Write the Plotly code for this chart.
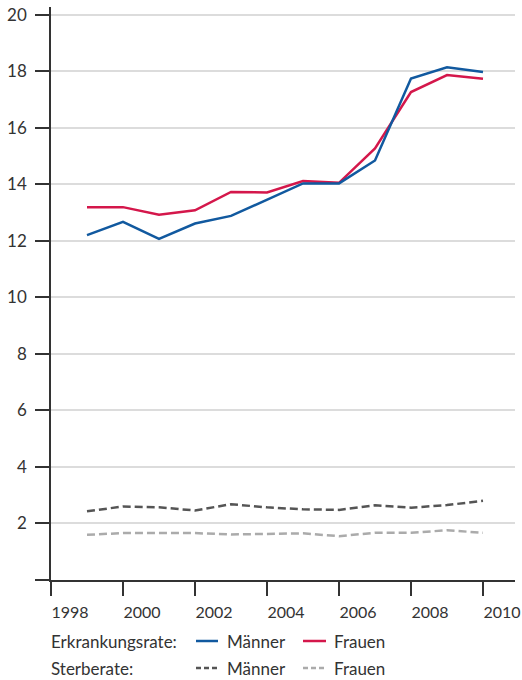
import plotly.graph_objects as go

years = list(range(1999, 2011))
erk_maenner = [12.2, 12.67, 12.07, 12.61, 12.88, 13.45, 14.03, 14.03, 14.84, 17.74, 18.14, 17.97]
erk_frauen = [13.19, 13.19, 12.92, 13.08, 13.73, 13.71, 14.11, 14.05, 15.27, 17.26, 17.86, 17.73]
sterb_maenner = [2.43, 2.6, 2.57, 2.46, 2.68, 2.57, 2.5, 2.48, 2.64, 2.56, 2.65, 2.8]
sterb_frauen = [1.6, 1.66, 1.66, 1.66, 1.61, 1.62, 1.65, 1.55, 1.67, 1.67, 1.76, 1.67]

y_ticks = list(range(0, 21, 2))
y_ticktext = ["" if v == 0 else str(v) for v in y_ticks]
x_ticks = list(range(1998, 2011, 2))

BLUE = "#11599f"
RED = "#d4174b"
DARK = "#555555"
LIGHT = "#ababab"
FONT = "Lato"
TXT = "#333333"
FS = 17

fig = go.Figure()
fig.add_trace(go.Scatter(x=years, y=sterb_frauen, mode="lines",
                         line=dict(color=LIGHT, width=2.5, dash="8px,4px")))
fig.add_trace(go.Scatter(x=years, y=sterb_maenner, mode="lines",
                         line=dict(color=DARK, width=2.5, dash="8px,4px")))
fig.add_trace(go.Scatter(x=years, y=erk_frauen, mode="lines",
                         line=dict(color=RED, width=2.5)))
fig.add_trace(go.Scatter(x=years, y=erk_maenner, mode="lines",
                         line=dict(color=BLUE, width=2.5)))

L, R, T, B = 51, 7, 7, 100
W, H = 522, 680
pw, ph = W - L - R, H - T - B

def px(x):
    return (x - L) / pw

def py(y):
    return (H - B - y) / ph

annotations = []
shapes = []
rows = [("Erkrankungsrate:", 641, BLUE, RED, "solid"),
        ("Sterberate:", 668, DARK, LIGHT, "dash")]
for label, yy, c1, c2, dash in rows:
    annotations.append(dict(x=px(49), y=py(yy), xref="paper", yref="paper",
                            text=label, showarrow=False, xanchor="left", yanchor="middle",
                            font=dict(family=FONT, size=FS, color=TXT)))
    for (x0, x1, tx, col, name) in [(196, 218, 225, c1, "Männer"), (303, 326, 332, c2, "Frauen")]:
        shapes.append(dict(type="line", xref="paper", yref="paper",
                           x0=px(x0), x1=px(x1), y0=py(yy), y1=py(yy),
                           line=dict(color=col, width=2.5,
                                     dash="solid" if dash == "solid" else "5px,3px")))
        annotations.append(dict(x=px(tx), y=py(yy), xref="paper", yref="paper",
                                text=name, showarrow=False, xanchor="left", yanchor="middle",
                                font=dict(family=FONT, size=FS, color=TXT)))

fig.update_layout(
    width=W, height=H,
    margin=dict(l=L, r=R, t=T, b=B),
    paper_bgcolor="white", plot_bgcolor="white",
    showlegend=False,
    font=dict(family=FONT, size=FS, color=TXT),
    annotations=annotations, shapes=shapes,
    xaxis=dict(range=[1998, 1998 + 464 / 36], tickvals=x_ticks,
               ticks="outside", ticklen=14, tickcolor=TXT, tickwidth=1.5,
               ticklabelshift=19, ticklabelstandoff=3,
               showline=True, linecolor=TXT, linewidth=1.5,
               showgrid=False, zeroline=False, fixedrange=True, automargin=False,
               tickfont=dict(family=FONT, size=16, color=TXT)),
    yaxis=dict(range=[0, 20.27], tickvals=y_ticks, ticktext=y_ticktext,
               ticks="outside", ticklen=14, tickcolor=TXT, tickwidth=1.5,
               ticklabelstandoff=5,
               showline=True, linecolor=TXT, linewidth=1.5,
               showgrid=True, gridcolor="#dcdcdc", gridwidth=1.5,
               zeroline=False, fixedrange=True, automargin=False,
               tickfont=dict(family=FONT, size=FS, color=TXT)),
)

fig.write_html("out.html", config={"displayModeBar": False},
               post_script="document.body.style.margin='0';document.body.style.overflow='hidden';")
